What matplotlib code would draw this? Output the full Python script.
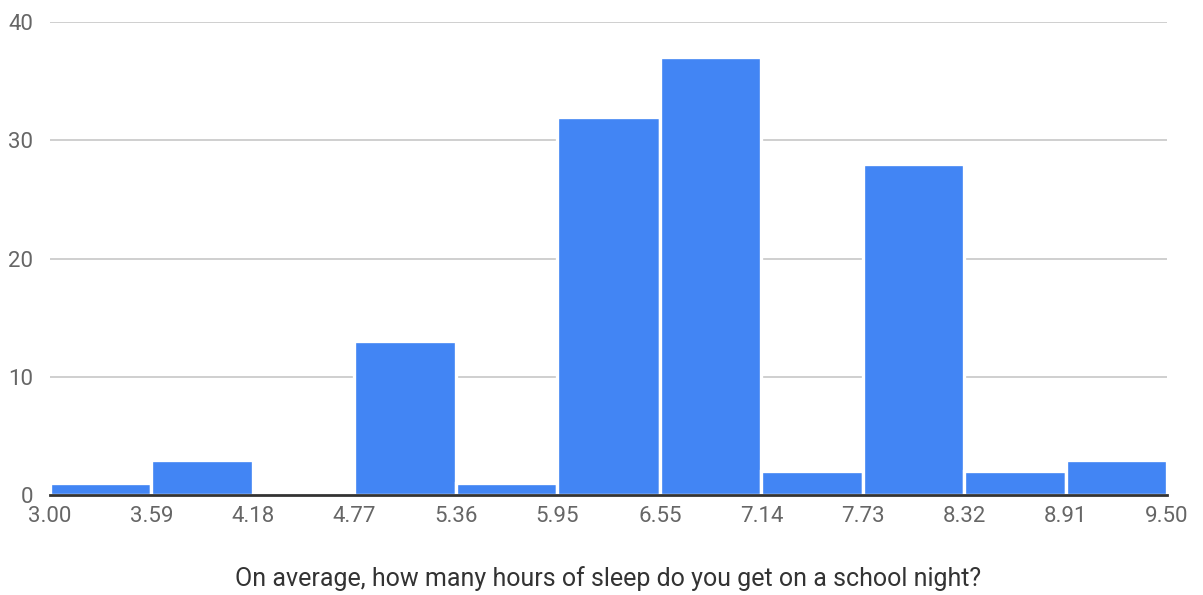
import numpy as np
import matplotlib
matplotlib.use("Agg")
import matplotlib.pyplot as plt

plt.rcParams['font.family'] = ['Roboto', 'DejaVu Sans']

# Histogram of reported sleep hours
bin_edges = [3.00, 3.59, 4.18, 4.77, 5.36, 5.95, 6.55, 7.14, 7.73, 8.32, 8.91, 9.50]
counts = [1, 3, 0, 13, 1, 32, 37, 2, 28, 2, 3]
tick_labels = ["3.00", "3.59", "4.18", "4.77", "5.36", "5.95", "6.55", "7.14",
               "7.73", "8.32", "8.91", "9.50"]
y_ticks = [0, 10, 20, 30, 40]
x_title = "On average, how many hours of sleep do you get on a school night?"

fig = plt.figure(figsize=(12.03, 5.95), dpi=100)
ax = fig.add_axes([0.0416, 0.168, 0.9285, 0.795])

edges = np.array(bin_edges)
lefts = edges[:-1]
widths = np.diff(edges)
ax.bar(lefts, counts, width=widths, align='edge', color='#4285F4',
       edgecolor='white', linewidth=2.4, zorder=3)

ax.set_xlim(edges[0], edges[-1])
ax.set_ylim(0, 40)
ax.set_yticks(y_ticks)
ax.set_xticks(edges)
ax.set_xticklabels(tick_labels)

ax.grid(axis='y', color='#cccccc', linewidth=1.3, zorder=0)
ax.set_axisbelow(True)
for s in ['top', 'right', 'left']:
    ax.spines[s].set_visible(False)
ax.spines['bottom'].set_color('#333333')
ax.spines['bottom'].set_linewidth(2.0)
ax.spines['bottom'].set_zorder(4)

ax.tick_params(axis='both', length=0, labelsize=16, labelcolor='#666666')
ax.tick_params(axis='y', pad=12)
ax.tick_params(axis='x', pad=8)

ax.set_xlabel(x_title, fontsize=18, color='#333333', labelpad=28)

fig.savefig("out.png", dpi=100, facecolor='white')
